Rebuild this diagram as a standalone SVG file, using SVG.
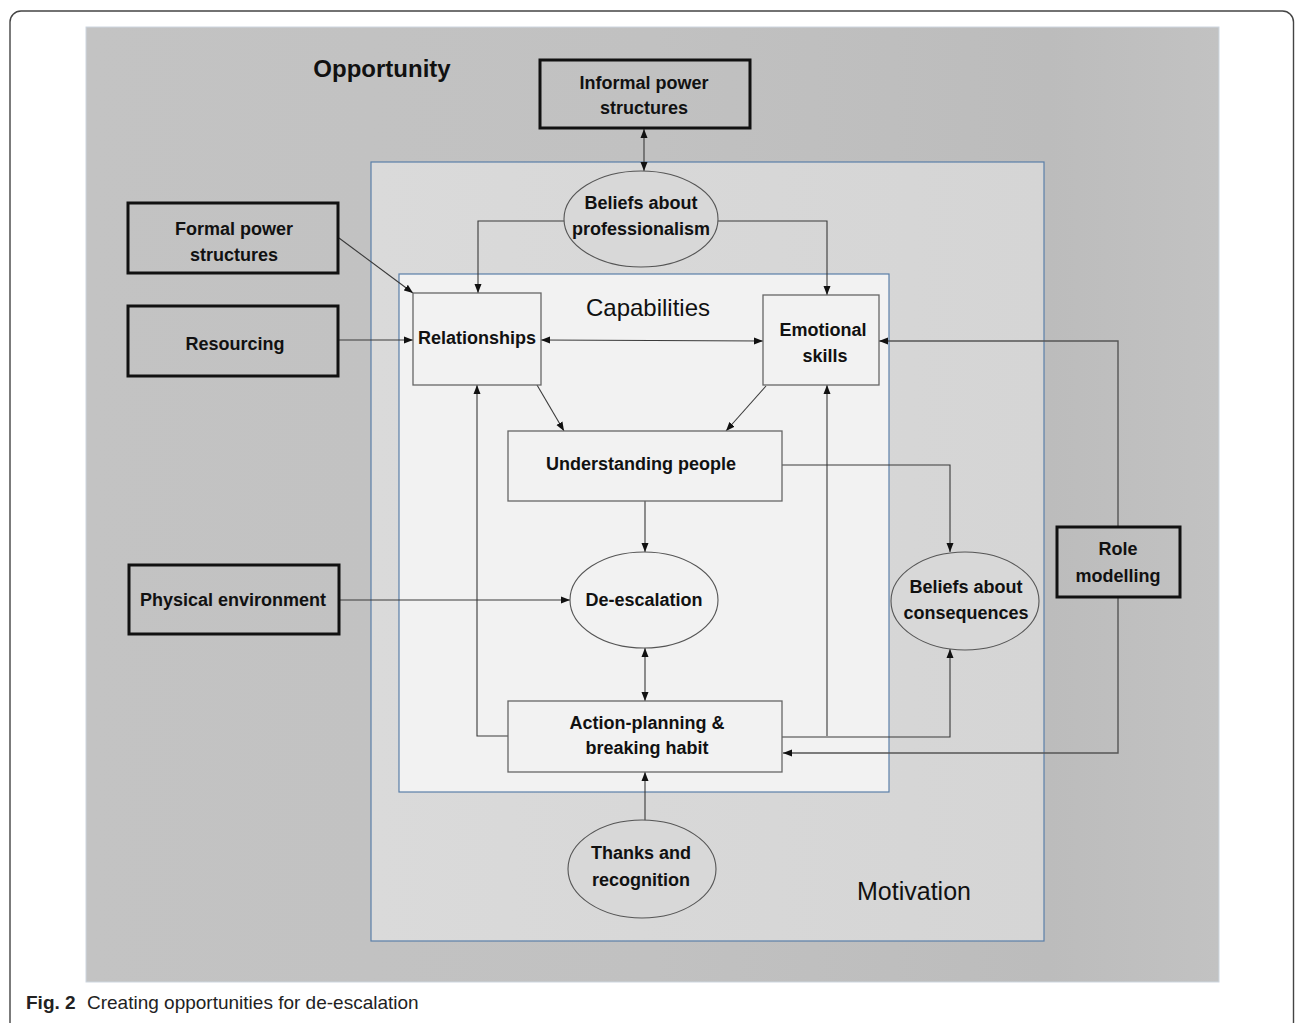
<svg xmlns="http://www.w3.org/2000/svg" width="1295" height="1023" viewBox="0 0 1295 1023">
<defs>
<marker id="ah" markerUnits="userSpaceOnUse" markerWidth="9" markerHeight="8" refX="9" refY="4" orient="auto-start-reverse"><path d="M0,0.5 L9,4 L0,7.5 z" fill="#111"/></marker>
<linearGradient id="gOpp" x1="0" y1="0" x2="1" y2="0"><stop offset="0" stop-color="#c3c3c3"/><stop offset="0.5" stop-color="#c1c1c1"/><stop offset="0.85" stop-color="#bcbcbc"/><stop offset="1" stop-color="#c2c2c2"/></linearGradient>
<linearGradient id="gMot" x1="0" y1="0" x2="1" y2="0"><stop offset="0" stop-color="#dadada"/><stop offset="1" stop-color="#d5d5d5"/></linearGradient>
</defs>
<style>
.t{font-family:"Liberation Sans",Arial,sans-serif;font-weight:bold;font-size:18px;fill:#111;text-anchor:middle}
.lbl{font-family:"Liberation Sans",Arial,sans-serif;font-size:24px;fill:#111;text-anchor:middle}
.obox{fill:none;stroke:#111;stroke-width:3}
.cbox{fill:#f2f2f2;stroke:#666;stroke-width:1.3}
.ell{stroke:#555;stroke-width:1.1}
.ln{fill:none;stroke:#3a3a3a;stroke-width:1.1}
.cap{font-family:"Liberation Sans",Arial,sans-serif;font-size:19px;fill:#222}
</style>
<rect width="1295" height="1023" fill="#ffffff"/>
<rect x="10" y="11" width="1283.5" height="1022" rx="11" fill="#ffffff" stroke="#444" stroke-width="1.4"/>
<g id="opportunity">
<rect x="86" y="27" width="1133" height="955" fill="url(#gOpp)" stroke="#cdd6df" stroke-width="1"/>
<text x="382" y="77" class="lbl" style="font-weight:bold">Opportunity</text>
</g>
<g id="motivation">
<rect x="371" y="162" width="673" height="779" fill="url(#gMot)" stroke="#5a7fa8" stroke-width="1.2"/>
<text x="914" y="900" class="lbl" style="font-size:25px">Motivation</text>
</g>
<g id="capabilities">
<rect x="399" y="274" width="490" height="518" fill="#f2f2f2" stroke="#5a7fa8" stroke-width="1.2"/>
<text x="648" y="316" class="lbl">Capabilities</text>
</g>
<g id="connectors">
<path class="ln" d="M644,129 L644,171" marker-start="url(#ah)" marker-end="url(#ah)"/>
<path class="ln" d="M564,221 L478,221 L478,293" marker-end="url(#ah)"/>
<path class="ln" d="M718,221 L827,221 L827,295" marker-end="url(#ah)"/>
<path class="ln" d="M339,238 L413,293" marker-end="url(#ah)"/>
<path class="ln" d="M339,340 L413,340" marker-end="url(#ah)"/>
<path class="ln" d="M541,340 L763,341" marker-start="url(#ah)" marker-end="url(#ah)"/>
<path class="ln" d="M1118,526 L1118,341 L879,341" marker-end="url(#ah)" style="stroke:#555;stroke-width:1.4"/>
<path class="ln" d="M1118,598 L1118,753 L783,753" marker-end="url(#ah)" style="stroke:#555;stroke-width:1.4"/>
<path class="ln" d="M537,385 L564,431" marker-end="url(#ah)"/>
<path class="ln" d="M766,386 L726,431" marker-end="url(#ah)"/>
<path class="ln" d="M645,501 L645,552" marker-end="url(#ah)"/>
<path class="ln" d="M782,465 L950,465 L950,552" marker-end="url(#ah)"/>
<path class="ln" d="M340,600 L570,600" marker-end="url(#ah)"/>
<path class="ln" d="M645,648 L645,701" marker-start="url(#ah)" marker-end="url(#ah)"/>
<path class="ln" d="M508,736 L477,736 L477,385" marker-end="url(#ah)"/>
<path class="ln" d="M827,736 L827,385" marker-end="url(#ah)"/>
<path class="ln" d="M782,737 L950,737 L950,649" marker-end="url(#ah)"/>
<path class="ln" d="M645,821 L645,772" marker-end="url(#ah)"/>
</g>
<g id="informal-power">
<rect x="540" y="60" width="210" height="68" class="obox"/>
<text x="644" y="89" class="t">Informal power</text>
<text x="644" y="114" class="t">structures</text>
</g>
<g id="formal-power">
<rect x="128" y="203" width="210" height="70" class="obox"/>
<text x="234" y="235" class="t">Formal power</text>
<text x="234" y="261" class="t">structures</text>
</g>
<g id="resourcing">
<rect x="128" y="306" width="210" height="70" class="obox"/>
<text x="235" y="350" class="t">Resourcing</text>
</g>
<g id="physical-environment">
<rect x="129" y="565" width="210" height="69" class="obox"/>
<text x="233" y="606" class="t">Physical environment</text>
</g>
<g id="role-modelling">
<rect x="1057" y="527" width="123" height="70" class="obox"/>
<text x="1118" y="555" class="t">Role</text>
<text x="1118" y="582" class="t">modelling</text>
</g>
<g id="beliefs-professionalism">
<ellipse cx="641" cy="219" rx="77" ry="48" fill="#d8d8d8" class="ell"/>
<text x="641" y="209" class="t">Beliefs about</text>
<text x="641" y="235" class="t">professionalism</text>
</g>
<g id="relationships">
<rect x="413" y="293" width="128" height="92" class="cbox"/>
<text x="477" y="344" class="t">Relationships</text>
</g>
<g id="emotional-skills">
<rect x="763" y="295" width="116" height="90" class="cbox"/>
<text x="823" y="336" class="t">Emotional</text>
<text x="825" y="362" class="t">skills</text>
</g>
<g id="understanding-people">
<rect x="508" y="431" width="274" height="70" class="cbox"/>
<text x="641" y="470" class="t">Understanding people</text>
</g>
<g id="de-escalation">
<ellipse cx="644" cy="600" rx="74" ry="48" fill="#f2f2f2" class="ell"/>
<text x="644" y="606" class="t">De-escalation</text>
</g>
<g id="beliefs-consequences">
<ellipse cx="965" cy="601" rx="74" ry="49" fill="#d8d8d8" class="ell"/>
<text x="966" y="593" class="t">Beliefs about</text>
<text x="966" y="619" class="t">consequences</text>
</g>
<g id="action-planning">
<rect x="508" y="701" width="274" height="71" class="cbox"/>
<text x="647" y="729" class="t">Action-planning &amp;</text>
<text x="647" y="754" class="t">breaking habit</text>
</g>
<g id="thanks-recognition">
<ellipse cx="642" cy="869" rx="74" ry="49" fill="#d8d8d8" class="ell"/>
<text x="641" y="859" class="t">Thanks and</text>
<text x="641" y="886" class="t">recognition</text>
</g>
<g id="caption">
<text x="26" y="1009" class="cap"><tspan style="font-weight:bold">Fig. 2</tspan><tspan x="87">Creating opportunities for de-escalation</tspan></text>
</g>
</svg>
